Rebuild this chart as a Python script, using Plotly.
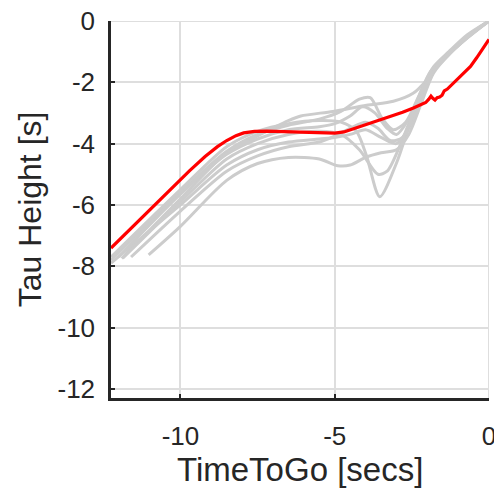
import plotly.graph_objects as go

# ---- data ----
red_x = [-12.25, -11.5, -10.5, -9.7, -9.2, -8.8, -8.5, -8.2, -7.95, -7.6, -7.2, -6.6, -6.0, -5.5, -5.0,
         -4.7, -4.4, -4.0, -3.6, -3.2, -2.8, -2.45, -2.2, -2.05, -1.95, -1.88, -1.82, -1.75, -1.68,
         -1.6, -1.52, -1.45, -1.35, -1.25, -1.15, -1.0, -0.8, -0.6, -0.4, -0.2, 0.0]
red_y = [-7.41, -6.66, -5.66, -4.88, -4.42, -4.1, -3.9, -3.74, -3.65, -3.6, -3.59, -3.61, -3.64, -3.66, -3.66,
         -3.62, -3.52, -3.38, -3.25, -3.12, -2.98, -2.84, -2.74, -2.66, -2.55, -2.45, -2.52, -2.58, -2.5,
         -2.48, -2.42, -2.28, -2.22, -2.12, -2.0, -1.88, -1.68, -1.48, -1.2, -0.92, -0.6]

g1_x = [-12.25, -10, -8.5, -7.5, -6.5, -5.5, -4.8, -4.2, -3.85, -3.45, -3.1, -2.7, -2.3, -1.9, -1.4, -0.9, -0.4, 0]
g1_y = [-7.8, -5.6, -4.25, -3.7, -3.4, -3.2, -2.95, -2.55, -2.5, -3.2, -3.55, -3.3, -2.5, -1.65, -1.15, -0.7, -0.3, 0]

g2_x = [-11.9, -10, -8.5, -7.5, -6.5, -6.1, -5.06, -3.97, -3.1, -2.46, -2.02, -1.5, -1.0, -0.5, 0]
g2_y = [-7.75, -5.8, -4.3, -3.75, -3.25, -3.1, -2.95, -2.75, -2.62, -2.36, -1.93, -1.25, -0.8, -0.38, 0]

g3_x = [-12.25, -10, -8.5, -7.5, -6.5, -5.5, -4.8, -4.3, -3.97, -3.54, -3.0, -2.56, -2.2, -1.8, -1.3, -0.7, 0]
g3_y = [-7.7, -5.5, -4.1, -3.6, -3.35, -3.25, -3.3, -3.6, -4.4, -5.73, -4.64, -3.34, -2.4, -1.55, -1.05, -0.5, 0]

g4_x = [-11.87, -10, -8.5, -7.5, -6.5, -5.5, -4.8, -4.2, -3.6, -3.3, -2.9, -2.5, -2.1, -1.7, -1.2, -0.6, 0]
g4_y = [-7.74, -5.9, -4.5, -4.0, -3.7, -3.6, -3.7, -4.2, -5.0, -4.9, -4.1, -3.1, -2.3, -1.45, -0.95, -0.45, 0]

g5_x = [-11.03, -10, -8.5, -7.5, -6.5, -5.5, -4.9, -4.5, -4.0, -3.5, -3.0, -2.6, -2.2, -1.8, -1.3, -0.7, 0]
g5_y = [-7.63, -6.7, -5.2, -4.65, -4.45, -4.5, -4.72, -4.7, -4.45, -4.3, -4.2, -3.7, -2.7, -1.7, -1.1, -0.55, 0]

g6_x = [-12.25, -10, -8.5, -7.5, -6.5, -5.5, -5.0, -4.5, -4.0, -3.5, -3.0, -2.6, -2.2, -1.8, -1.3, -0.7, 0]
g6_y = [-7.9, -6.0, -4.7, -4.2, -3.95, -3.85, -3.8, -3.7, -3.55, -3.8, -4.0, -3.5, -2.6, -1.65, -1.1, -0.5, 0]

g7_x = [-12.0, -10, -8.5, -7.5, -6.5, -5.5, -5.0, -4.5, -4.1, -3.7, -3.3, -3.0, -2.6, -2.2, -1.8, -1.3, -0.7, 0]
g7_y = [-7.7, -5.65, -4.35, -3.85, -3.55, -3.45, -3.35, -3.1, -2.8, -3.0, -3.5, -3.7, -3.2, -2.3, -1.5, -1.0, -0.45, 0]

g8_x = [-11.6, -10, -8.5, -7.5, -6.5, -5.5, -5.0, -4.5, -4.0, -3.6, -3.2, -2.8, -2.4, -2.0, -1.6, -1.0, -0.5, 0]
g8_y = [-7.7, -6.2, -4.9, -4.4, -4.1, -3.95, -3.75, -3.5, -3.3, -3.5, -3.9, -3.8, -2.9, -2.0, -1.35, -0.8, -0.35, 0]

gray_series = [(g1_x, g1_y), (g2_x, g2_y), (g3_x, g3_y), (g4_x, g4_y),
               (g5_x, g5_y), (g6_x, g6_y), (g7_x, g7_y), (g8_x, g8_y)]

x_ticks = [-10, -5, 0]
y_ticks = [0, -2, -4, -6, -8, -10, -12]
x_title = "TimeToGo [secs]"
y_title = "Tau Height [s]"

# ---- figure ----
GRID = "rgb(222,222,222)"
fig = go.Figure()
for gx, gy in gray_series:
    fig.add_trace(go.Scatter(x=gx, y=gy, mode="lines",
                             line=dict(color="rgb(204,204,204)", width=3, shape="spline", smoothing=0.8),
                             showlegend=False, hoverinfo="skip"))
fig.add_trace(go.Scatter(x=red_x, y=red_y, mode="lines",
                         line=dict(color="rgb(255,0,0)", width=3.2),
                         showlegend=False))

FONT = "Liberation Sans, Arial, sans-serif"
TXT = "#262626"
axis_common = dict(showline=True, linecolor=TXT, linewidth=2.5,
                   ticks="inside", ticklen=4, tickwidth=2, tickcolor=TXT,
                   showgrid=True, gridcolor=GRID, gridwidth=2,
                   zeroline=False, ticklabeloverflow="allow", automargin=False,
                   tickfont=dict(family=FONT, size=26, color=TXT))

fig.update_xaxes(range=[-12.25, 0], tickvals=x_ticks, ticktext=[str(v) for v in x_ticks],
                 ticklabelstandoff=13, **axis_common)
fig.update_yaxes(range=[-12.3, 0], tickvals=y_ticks, ticktext=[str(v) for v in y_ticks],
                 ticklabelstandoff=8, **axis_common)

# gridlines that sit on the plot edges (top y=0, right x=0)
fig.add_shape(type="line", xref="paper", yref="y", x0=0, x1=1, y0=y_ticks[0], y1=y_ticks[0],
              line=dict(color=GRID, width=2), layer="below")
fig.add_shape(type="line", xref="x", yref="paper", x0=x_ticks[-1], x1=x_ticks[-1], y0=0, y1=1,
              line=dict(color=GRID, width=2), layer="below")

fig.add_annotation(text=x_title, xref="paper", yref="paper", x=0.5, y=-0.19,
                   xanchor="center", yanchor="middle", showarrow=False,
                   font=dict(family=FONT, size=33, color=TXT))
fig.add_annotation(text=y_title, xref="paper", yref="paper", x=-0.215, y=0.5,
                   xanchor="center", yanchor="middle", showarrow=False, textangle=-90,
                   font=dict(family=FONT, size=32, color=TXT))

fig.update_layout(width=494, height=490, margin=dict(l=111, r=5, t=21, b=92),
                  plot_bgcolor="white", paper_bgcolor="white")

fig.write_html("out.html")
